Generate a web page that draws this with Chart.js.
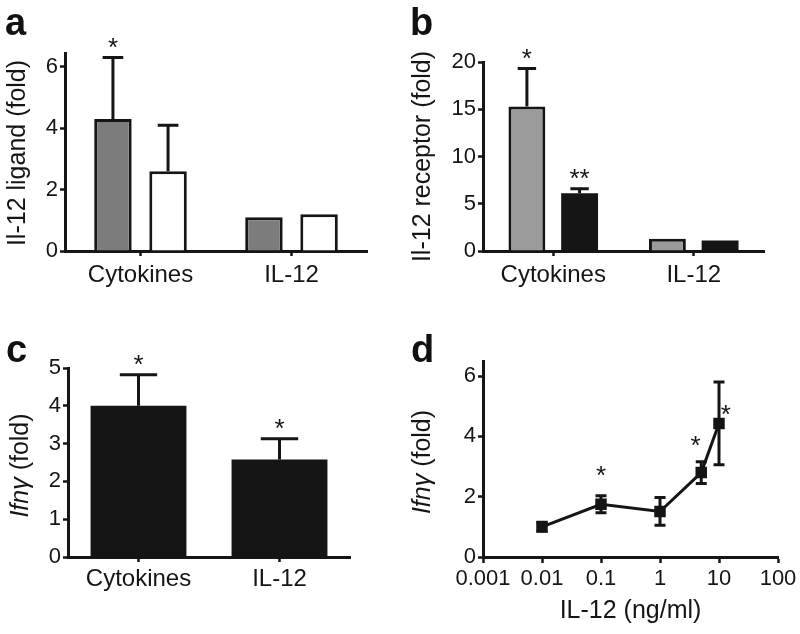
<!DOCTYPE html>
<html>
<head>
<meta charset="utf-8">
<script src="https://cdn.jsdelivr.net/npm/chart.js@4.4.0/dist/chart.umd.min.js"></script>
<style>
  html, body { margin: 0; padding: 0; background: #fff; }
  #fig { position: relative; width: 800px; height: 634px; overflow: hidden; font-family: "Liberation Sans", Arial, sans-serif; color: #111; }
  #fig canvas { position: absolute; }
  .letter { position: absolute; font-weight: bold; font-size: 38px; line-height: 38px; }
</style>
</head>
<body>
<div id="fig">
  <canvas id="chartA" style="left:0;top:0" width="400" height="310"></canvas>
  <canvas id="chartB" style="left:400px;top:0" width="400" height="310"></canvas>
  <canvas id="chartC" style="left:0;top:310px" width="400" height="324"></canvas>
  <canvas id="chartD" style="left:400px;top:310px" width="400" height="324"></canvas>
  <div class="letter" style="left:5px;top:3px">a</div>
  <div class="letter" style="left:410px;top:3px">b</div>
  <div class="letter" style="left:6px;top:330px">c</div>
  <div class="letter" style="left:411px;top:330px">d</div>
</div>
<script>
// --- Datos ---
const categories = ['Cytokines', 'IL-12'];

// a: Il-12 ligand
const ligandGray     = [4.3, 1.1];
const ligandGrayErr  = [2.0, 0];
const ligandWhite    = [2.6, 1.2];
const ligandWhiteErr = [1.5, 0];
const ligandGrayStars  = ['*', ''];
const ligandWhiteStars = ['', ''];
const ligandTicksMax = 6.45;

// b: Il-12 receptor
const receptorGray     = [15.3, 1.3];
const receptorGrayErr  = [4.0, 0];
const receptorBlack    = [6.1, 1.1];
const receptorBlackErr = [0.5, 0];
const receptorGrayStars  = ['*', ''];
const receptorBlackStars = ['**', ''];

// c: Ifng barras
const ifngBars     = [4.0, 2.58];
const ifngBarsErr  = [0.82, 0.55];
const ifngBarStars = ['*', '*'];

// d: dosis IL-12
const doseX   = [0.01, 0.1, 1, 5, 10];
const doseY   = [1.0, 1.75, 1.51, 2.8, 4.43];
const doseErr = [0.15, 0.28, 0.46, 0.36, 1.37];
const doseTicks = [0.001, 0.01, 0.1, 1, 10, 100];
const doseStarX = [0.1, 4, 13];
const doseStarY = [2.78, 3.77, 4.8];

const ink = '#151515';
Chart.defaults.font.family = '"Liberation Sans", Arial, sans-serif';
Chart.defaults.color = ink;

const tickFont = { size: 22 };
const catFont  = { size: 24 };

// --- Plugin: barras de error (solo hacia arriba) + asteriscos ---
const barErrors = {
  id: 'barErrors',
  afterDatasetsDraw(chart, args, opts) {
    if (!opts.errors) return;
    const ctx = chart.ctx;
    const y = chart.scales.y;
    ctx.save();
    ctx.strokeStyle = ink;
    ctx.fillStyle = ink;
    ctx.lineWidth = 3;
    ctx.font = '26px "Liberation Sans", Arial, sans-serif';
    ctx.textAlign = 'center';
    ctx.textBaseline = 'alphabetic';
    chart.data.datasets.forEach((ds, i) => {
      const meta = chart.getDatasetMeta(i);
      const errs = opts.errors[i] || [];
      const stars = (opts.stars && opts.stars[i]) || [];
      meta.data.forEach((el, j) => {
        const v = ds.data[j];
        const e = errs[j] || 0;
        const top = y.getPixelForValue(v + e);
        if (e > 0) {
          const half = el.width * opts.capRatio / 2;
          ctx.beginPath();
          ctx.moveTo(el.x, el.y);
          ctx.lineTo(el.x, top);
          ctx.moveTo(el.x - half, top);
          ctx.lineTo(el.x + half, top);
          ctx.stroke();
        }
        if (stars[j]) ctx.fillText(stars[j], el.x, top - 2);
      });
    });
    ctx.restore();
  }
};

// --- Plugin: barras de error simétricas para la curva (d) ---
const pointErrors = {
  id: 'pointErrors',
  afterDatasetsDraw(chart, args, opts) {
    if (!opts.errors) return;
    const ctx = chart.ctx;
    const x = chart.scales.x, y = chart.scales.y;
    ctx.save();
    ctx.strokeStyle = ink;
    ctx.fillStyle = ink;
    ctx.lineWidth = 3;
    const meta = chart.getDatasetMeta(0);
    meta.data.forEach((el, j) => {
      const v = chart.data.datasets[0].data[j].y;
      const e = opts.errors[j];
      const hi = y.getPixelForValue(v + e), lo = y.getPixelForValue(v - e);
      const half = opts.cap / 2;
      ctx.beginPath();
      ctx.moveTo(el.x, hi); ctx.lineTo(el.x, lo);
      ctx.moveTo(el.x - half, hi); ctx.lineTo(el.x + half, hi);
      ctx.moveTo(el.x - half, lo); ctx.lineTo(el.x + half, lo);
      ctx.stroke();
    });
    ctx.font = '26px "Liberation Sans", Arial, sans-serif';
    ctx.textAlign = 'center';
    ctx.textBaseline = 'middle';
    (opts.starX || []).forEach((sx, k) => {
      ctx.fillText('*', x.getPixelForValue(sx), y.getPixelForValue(opts.starY[k]) + 4);
    });
    ctx.restore();
  }
};

// --- Plugin: títulos de ejes (permite mezclar cursiva) ---
const axisTitles = {
  id: 'axisTitles',
  afterDraw(chart, args, opts) {
    const ctx = chart.ctx;
    const area = chart.chartArea;
    const family = '"Liberation Sans", Arial, sans-serif';
    ctx.save();
    ctx.fillStyle = ink;
    if (opts.y) {
      const parts = opts.y;
      let total = 0;
      parts.forEach(p => {
        ctx.font = (p.italic ? 'italic ' : '') + opts.size + 'px ' + family;
        p.w = ctx.measureText(p.text).width;
        total += p.w;
      });
      ctx.translate(opts.yX, (area.top + area.bottom) / 2 + (opts.yShift || 0));
      ctx.rotate(-Math.PI / 2);
      ctx.textBaseline = 'middle';
      ctx.textAlign = 'left';
      let pos = -total / 2;
      parts.forEach(p => {
        ctx.font = (p.italic ? 'italic ' : '') + opts.size + 'px ' + family;
        ctx.fillText(p.text, pos, 0);
        pos += p.w;
      });
      ctx.setTransform(1, 0, 0, 1, 0, 0);
    }
    if (opts.x) {
      ctx.font = opts.size + 'px ' + family;
      ctx.textAlign = 'center';
      ctx.textBaseline = 'middle';
      ctx.fillText(opts.x, (area.left + area.right) / 2, opts.xY);
    }
    ctx.restore();
  }
};

Chart.register(barErrors, pointErrors, axisTitles);

// --- Helpers de ejes ---
function yAxis(max, step, width) {
  return {
    min: 0,
    max: max,
    ticks: { stepSize: step, includeBounds: false, font: tickFont, color: ink, padding: 2 },
    grid: { drawOnChartArea: false, drawTicks: true, tickLength: 5, tickWidth: 2.5, tickColor: ink },
    border: { color: ink, width: 3 },
    afterFit: s => { s.width = width; }
  };
}

function catAxis(height, pad) {
  return {
    offset: true,
    ticks: { font: catFont, color: ink, padding: pad, maxRotation: 0, autoSkip: false },
    grid: { offset: false, drawOnChartArea: false, tickLength: 5, tickWidth: 2.5, tickColor: ink },
    border: { color: ink, width: 3 },
    afterFit: s => { s.height = height; }
  };
}

const baseOptions = {
  responsive: false,
  animation: false,
  events: [],
  plugins: { legend: { display: false }, tooltip: { enabled: false } }
};

function barDataset(data, color, catPct, barPct, border) {
  return {
    data: data,
    backgroundColor: color,
    borderColor: ink,
    borderWidth: border,
    borderSkipped: 'start',
    categoryPercentage: catPct,
    barPercentage: barPct
  };
}

// --- a ---
new Chart(document.getElementById('chartA'), {
  type: 'bar',
  data: {
    labels: categories,
    datasets: [
      barDataset(ligandGray, '#7c7c7c', 0.73, 0.68, 3),
      barDataset(ligandWhite, '#ffffff', 0.73, 0.68, 3)
    ]
  },
  options: {
    ...baseOptions,
    layout: { padding: { top: 53, right: 33, left: 0, bottom: 0 } },
    scales: { x: catAxis(59, 5), y: yAxis(ligandTicksMax, 2, 65) },
    plugins: {
      ...baseOptions.plugins,
      barErrors: { errors: [ligandGrayErr, ligandWhiteErr], stars: [ligandGrayStars, ligandWhiteStars], capRatio: 0.55 },
      axisTitles: { y: [{ text: 'Il-12 ligand (fold)' }], yX: 18, yShift: 1, size: 25 }
    }
  }
});

// --- b ---
new Chart(document.getElementById('chartB'), {
  type: 'bar',
  data: {
    labels: categories,
    datasets: [
      barDataset(receptorGray, '#9b9b9b', 0.75, 0.7, 3),
      barDataset(receptorBlack, ink, 0.75, 0.7, 0)
    ]
  },
  options: {
    ...baseOptions,
    layout: { padding: { top: 62, right: 36, left: 0, bottom: 0 } },
    scales: { x: catAxis(59, 5), y: yAxis(20, 5, 83) },
    plugins: {
      ...baseOptions.plugins,
      barErrors: { errors: [receptorGrayErr, receptorBlackErr], stars: [receptorGrayStars, receptorBlackStars], capRatio: 0.5 },
      axisTitles: { y: [{ text: 'Il-12 receptor (fold)' }], yX: 23, yShift: 0, size: 25 }
    }
  }
});

// --- c ---
new Chart(document.getElementById('chartC'), {
  type: 'bar',
  data: {
    labels: categories,
    datasets: [barDataset(ifngBars, ink, 1, 0.68, 0)]
  },
  options: {
    ...baseOptions,
    layout: { padding: { top: 58, right: 50, left: 0, bottom: 0 } },
    scales: { x: catAxis(77, 3), y: yAxis(5, 1, 68) },
    plugins: {
      ...baseOptions.plugins,
      barErrors: { errors: [ifngBarsErr], stars: [ifngBarStars], capRatio: 0.39 },
      axisTitles: { y: [{ text: 'Ifnγ', italic: true }, { text: ' (fold)' }], yX: 21, yShift: 3, size: 25 }
    }
  }
});

// --- d ---
new Chart(document.getElementById('chartD'), {
  type: 'line',
  data: {
    datasets: [{
      data: doseX.map((x, i) => ({ x: x, y: doseY[i] })),
      borderColor: ink,
      borderWidth: 3,
      pointStyle: 'rect',
      pointRadius: 6,
      pointBackgroundColor: ink,
      pointBorderColor: ink,
      tension: 0
    }]
  },
  options: {
    ...baseOptions,
    layout: { padding: { top: 51, right: 22, left: 0, bottom: 0 } },
    scales: {
      x: {
        type: 'logarithmic',
        min: 0.001,
        max: 100,
        afterBuildTicks: s => { s.ticks = doseTicks.map(v => ({ value: v })); },
        ticks: { font: tickFont, color: ink, padding: 3, autoSkip: false, maxRotation: 0, callback: v => String(v) },
        grid: { drawOnChartArea: false, tickLength: 6, tickWidth: 2.5, tickColor: ink },
        border: { color: ink, width: 3 },
        afterFit: s => { s.height = 77; }
      },
      y: yAxis(6.5, 2, 83)
    },
    plugins: {
      ...baseOptions.plugins,
      pointErrors: { errors: doseErr, cap: 11, starX: doseStarX, starY: doseStarY },
      axisTitles: { y: [{ text: 'Ifnγ', italic: true }, { text: ' (fold)' }], yX: 23, yShift: 3, size: 25, x: 'IL-12 (ng/ml)', xY: 301 }
    }
  }
});
</script>
</body>
</html>
